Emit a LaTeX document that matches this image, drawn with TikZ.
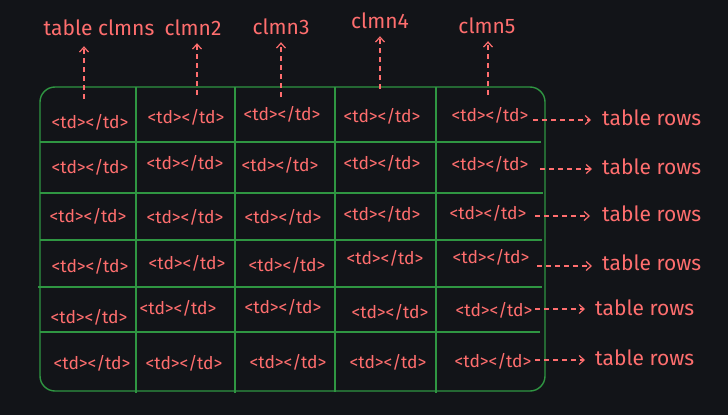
\documentclass[tikz,border=0pt]{standalone}
\usepackage{fontspec}
\setmainfont{Fira Sans}
\usetikzlibrary{arrows.meta,positioning}
\definecolor{bgdark}{RGB}{18,20,24}
\definecolor{salmon}{RGB}{255,110,110}
\definecolor{tabgreen}{RGB}{47,150,66}

\begin{document}
\begin{tikzpicture}[x=1pt, y=-1pt,
		cell/.style={text=salmon, font=\fontsize{17.5}{19}\selectfont, inner sep=2pt},
		lbl/.style={text=salmon, font=\fontsize{21}{24}\selectfont, inner sep=2pt},
		gridline/.style={draw=tabgreen, line width=1.4pt},
		dasharrow/.style={draw=salmon, line width=1.2pt, dash pattern=on 5pt off 4pt,
			-{Straight Barb[length=5pt, width=9pt, line width=1.2pt]}}]
				% Sfondo
				\fill[bgdark] (0,0) rectangle (728,415);
				\useasboundingbox (0,0) rectangle (728,415);
				
				% Tabella
				\draw[gridline, rounded corners=15pt] (40,87) rectangle (545,391);
				\draw[gridline] (136,87) -- (136,393);
				\draw[gridline] (235,87) -- (235,393);
				\draw[gridline] (335,87) -- (335,392);
				\draw[gridline] (436,87) -- (436,393);
				\draw[gridline] (40,142) -- (541,142);
				\draw[gridline] (40,193) -- (543,193);
				\draw[gridline] (40,240) -- (542,240);
				\draw[gridline] (38,287) -- (542,287);
				\draw[gridline] (40,332) -- (540,332);
				
				% Celle
				\node[cell] (r1c1) at (90,122) {<td></td>};
				\node[cell] (r1c2) at (186,117) {<td></td>};
				\node[cell] (r1c3) at (282,114) {<td></td>};
				\node[cell] (r1c4) at (382,116) {<td></td>};
				\node[cell] (r1c5) at (490,115) {<td></td>};
				
				\node[cell] (r2c1) at (90,167) {<td></td>};
				\node[cell] (r2c2) at (185,163) {<td></td>};
				\node[cell] (r2c3) at (280,165) {<td></td>};
				\node[cell] (r2c4) at (382,163) {<td></td>};
				\node[cell] (r2c5) at (490,164) {<td></td>};
				
				\node[cell] (r3c1) at (88,216) {<td></td>};
				\node[cell] (r3c2) at (185,217) {<td></td>};
				\node[cell] (r3c3) at (283,217) {<td></td>};
				\node[cell] (r3c4) at (382,214) {<td></td>};
				\node[cell] (r3c5) at (488,213) {<td></td>};
				
				\node[cell] (r4c1) at (90,266) {<td></td>};
				\node[cell] (r4c2) at (187,263) {<td></td>};
				\node[cell] (r4c3) at (287,265) {<td></td>};
				\node[cell] (r4c4) at (385,258) {<td></td>};
				\node[cell] (r4c5) at (491,257) {<td></td>};
				
				\node[cell] (r5c1) at (89,317) {<td></td>};
				\node[cell] (r5c2) at (178,308) {<td></td>};
				\node[cell] (r5c3) at (283,307) {<td></td>};
				\node[cell] (r5c4) at (390,312) {<td></td>};
				\node[cell] (r5c5) at (494,310) {<td></td>};
				
				\node[cell] (r6c1) at (92,363) {<td></td>};
				\node[cell] (r6c2) at (184,363) {<td></td>};
				\node[cell] (r6c3) at (288,362) {<td></td>};
				\node[cell] (r6c4) at (388,362) {<td></td>};
				\node[cell] (r6c5) at (493,361) {<td></td>};
				
				% Colonne
				\node[lbl] (col1) at (99,28) {table clmns};
				\node[lbl] (col2) at (193,28) {clmn2};
				\node[lbl] (col3) at (281,27) {clmn3};
				\node[lbl] (col4) at (380,21) {clmn4};
				\node[lbl] (col5) at (487,26) {clmn5};
				
				\coordinate (cs1) at (84,99);
				\coordinate (cs2) at (197,95);
				\coordinate (cs3) at (281,97);
				\coordinate (cs4) at (380,89);
				\coordinate (cs5) at (488,95);
				
				\draw[dasharrow, shorten >=8pt] (cs1) -- (cs1 |- col1.south);
				\draw[dasharrow, shorten >=5pt] (cs2) -- (cs2 |- col2.south);
				\draw[dasharrow, shorten >=5pt] (cs3) -- (cs3 |- col3.south);
				\draw[dasharrow, shorten >=5pt] (cs4) -- (cs4 |- col4.south);
				\draw[dasharrow, shorten >=5pt] (cs5) -- (cs5 |- col5.south);
				
				% Righe
				\node[lbl, anchor=west] (row1) at (600,118) {table rows};
				\node[lbl, anchor=west] (row2) at (600,167) {table rows};
				\node[lbl, anchor=west] (row3) at (600,214) {table rows};
				\node[lbl, anchor=west] (row4) at (600,263) {table rows};
				\node[lbl, anchor=west] (row5) at (593,308) {table rows};
				\node[lbl, anchor=west] (row6) at (593,358) {table rows};
				
				\coordinate (rs1) at (533,120);
				\coordinate (rs2) at (540,169);
				\coordinate (rs3) at (535,216);
				\coordinate (rs4) at (537,266);
				\coordinate (rs5) at (535,309);
				\coordinate (rs6) at (535,360);
				
				\draw[dasharrow, shorten >=9pt] (rs1) -- (rs1 -| row1.west);
				\draw[dasharrow, shorten >=8pt] (rs2) -- (rs2 -| row2.west);
				\draw[dasharrow, shorten >=10pt] (rs3) -- (rs3 -| row3.west);
				\draw[dasharrow, shorten >=8pt] (rs4) -- (rs4 -| row4.west);
				\draw[dasharrow, shorten >=8pt] (rs5) -- (rs5 -| row5.west);
				\draw[dasharrow, shorten >=8pt] (rs6) -- (rs6 -| row6.west);
			\end{tikzpicture}
\end{document}
